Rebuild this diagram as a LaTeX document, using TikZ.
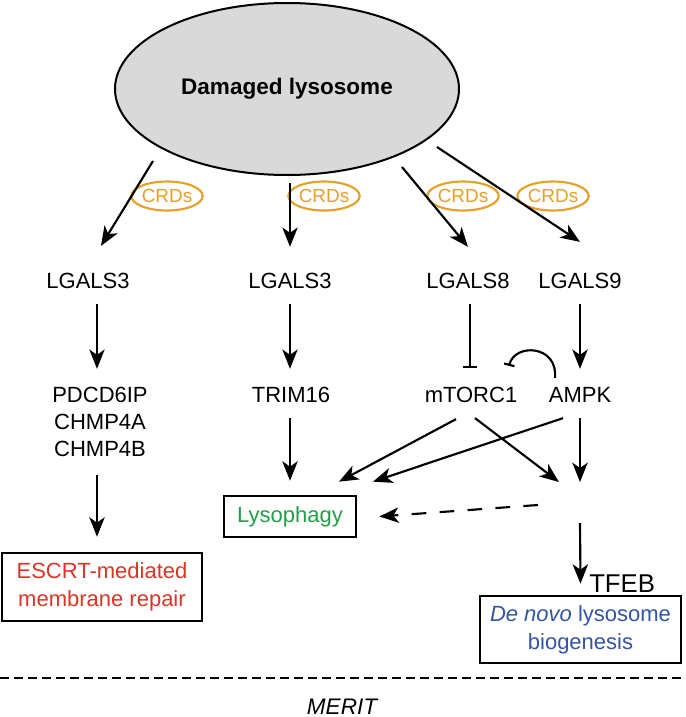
\documentclass[tikz,border=0pt]{standalone}
\usepackage{fontspec}
\setmainfont{Liberation Sans}
\usetikzlibrary{arrows.meta,shapes.geometric,calc}
\definecolor{lysogray}{RGB}{217,217,217}
\definecolor{crdorange}{RGB}{230,160,40}
\definecolor{repairred}{RGB}{222,52,38}
\definecolor{lysogreen}{RGB}{34,158,70}
\definecolor{biogblue}{RGB}{52,84,168}
\begin{document}
\begin{tikzpicture}[x=0.75pt,y=-0.75pt,
  lab/.style={font=\fontsize{16.5}{19.8}\selectfont, inner sep=0pt, text height=11.8pt, text depth=0pt},
  crd/.style={ellipse, draw=crdorange, line width=1.6pt, text=crdorange, inner sep=0pt,
    minimum width=48.75pt, minimum height=21.75pt, font=\fontsize{14.2}{16}\selectfont},
  outbox/.style={draw=black, line width=2pt, inner sep=0pt, align=center,
    font=\fontsize{16.5}{21}\selectfont},
  arr/.style={line width=1.6pt, -{Stealth[length=14.5pt,width=11.5pt,inset=4pt]}},
  inh/.style={line width=1.6pt, -{Bar[width=10.5pt,line width=1.6pt]}},
  dasharr/.style={line width=1.6pt, dash pattern=on 11pt off 10pt, -{Stealth[length=14.5pt,width=11.5pt,inset=4pt]}},
  sepline/.style={line width=1.6pt, dash pattern=on 6.75pt off 3.75pt}]
\useasboundingbox (0,0) rectangle (685,717);

% damaged lysosome
\node[ellipse, draw=black, fill=lysogray, line width=1.5pt, minimum width=258pt, minimum height=129pt,
  inner sep=0pt, font=\fontsize{16.9}{20}\selectfont\bfseries] (lyso) at (287,89) {Damaged lysosome};

% CRDs
\node[crd] (crd1) at (167,196) {CRDs};
\node[crd] (crd2) at (324,196) {CRDs};
\node[crd] (crd3) at (463,196) {CRDs};
\node[crd] (crd4) at (553,196) {CRDs};

% galectins
\node[lab] (l3a) at (88,281) {LGALS3};
\node[lab] (l3b) at (290,281) {LGALS3};
\node[lab] (l8) at (468,281) {LGALS8};
\node[lab] (l9) at (580,281) {LGALS9};

% third row
\node[lab] (pd) at (100,395) {PDCD6IP};
\node[lab] (c4a) at (100,422) {CHMP4A};
\node[lab] (c4b) at (100,449) {CHMP4B};
\node[lab] (trim) at (291,395) {TRIM16};
\node[lab] (mtor) at (471,395) {mTORC1};
\node[lab] (ampk) at (580,395) {AMPK};

% outcomes
\node[outbox, text=repairred, minimum width=150pt, minimum height=51pt] (escrt) at (102,587)
  {ESCRT-mediated\\membrane repair};
\node[outbox, text=lysogreen, minimum width=99pt, minimum height=30.75pt] (lyph) at (290,516.5)
  {Lysophagy};
\node[outbox, text=biogblue, minimum width=150.75pt, minimum height=50.25pt] (denovo) at (580.5,629.5)
  {\textit{De novo} lysosome\\biogenesis};
\node[anchor=west, inner sep=0pt, font=\fontsize{19.3}{22}\selectfont, text height=13.8pt, text depth=0pt]
  (tfeb) at (589,583) {TFEB};
\coordinate (hub) at (580,503);

% MERIT
\node[inner sep=0pt, font=\fontsize{16.9}{20}\selectfont\itshape, text height=12.1pt, text depth=0pt]
  (merit) at (342,706) {MERIT};
\draw[sepline] (0,678) -- (685,678);

% arrows from lysosome
\draw[arr] ($(lyso)+(-134,72)$) -- ($(l3a.north)+(13,-27)$);
\draw[arr] ($(lyso)+(3,94)$) -- ($(l3b.north)+(0,-26)$);
\draw[arr] ($(lyso)+(115,78)$) -- ($(l8.north)+(0,-26)$);
\draw[arr] ($(lyso)+(150,58)$) -- ($(l9.north)+(0,-31)$);

% second row to third row
\draw[arr] ($(l3a.south)+(9,15)$) -- ($(pd.north)+(-3,-18)$);
\draw[arr] ($(l3b.south)+(0,15)$) -- ($(trim.north)+(-1,-18)$);
\draw[inh] ($(l8.south)+(2,15)$) -- ($(mtor.north)+(-1,-19)$);
\draw[arr] ($(l9.south)+(0,15)$) -- ($(ampk.north)+(0,-18)$);

% AMPK inhibits mTORC1
\draw[line width=1.6pt, -{Bar[width=8pt,line width=1.6pt]}] ($(ampk.north)+(-25,-9)$)
  .. controls ($(ampk.north)+(-22,-42)$) and ($(mtor.north)+(44,-44)$) .. ($(mtor.north)+(38,-21)$);

% third row onward
\draw[arr] ($(c4b.south)+(-3,18)$) -- ($(escrt.north)+(-5,-15)$);
\draw[arr] ($(trim.south)+(-1,15)$) -- ($(lyph.north)+(0,-14)$);
\draw[arr] ($(mtor.south)+(-15,16)$) -- ($(lyph.north)+(49,-13)$);
\draw[arr] ($(ampk.south)+(-17,15)$) -- ($(lyph.north)+(83,-13)$);
\draw[arr] ($(mtor.south)+(4,15)$) -- ($(hub)+(-21,-21)$);
\draw[arr] ($(ampk.south)+(0,15)$) -- ($(hub)+(0,-21)$);
\draw[dasharr] ($(hub)+(-42,2)$) -- ($(lyph.east)+(22,0)$);
\draw[arr] ($(hub)+(0,20)$) -- ($(denovo.north)+(0,-11)$);
\end{tikzpicture}
\end{document}
